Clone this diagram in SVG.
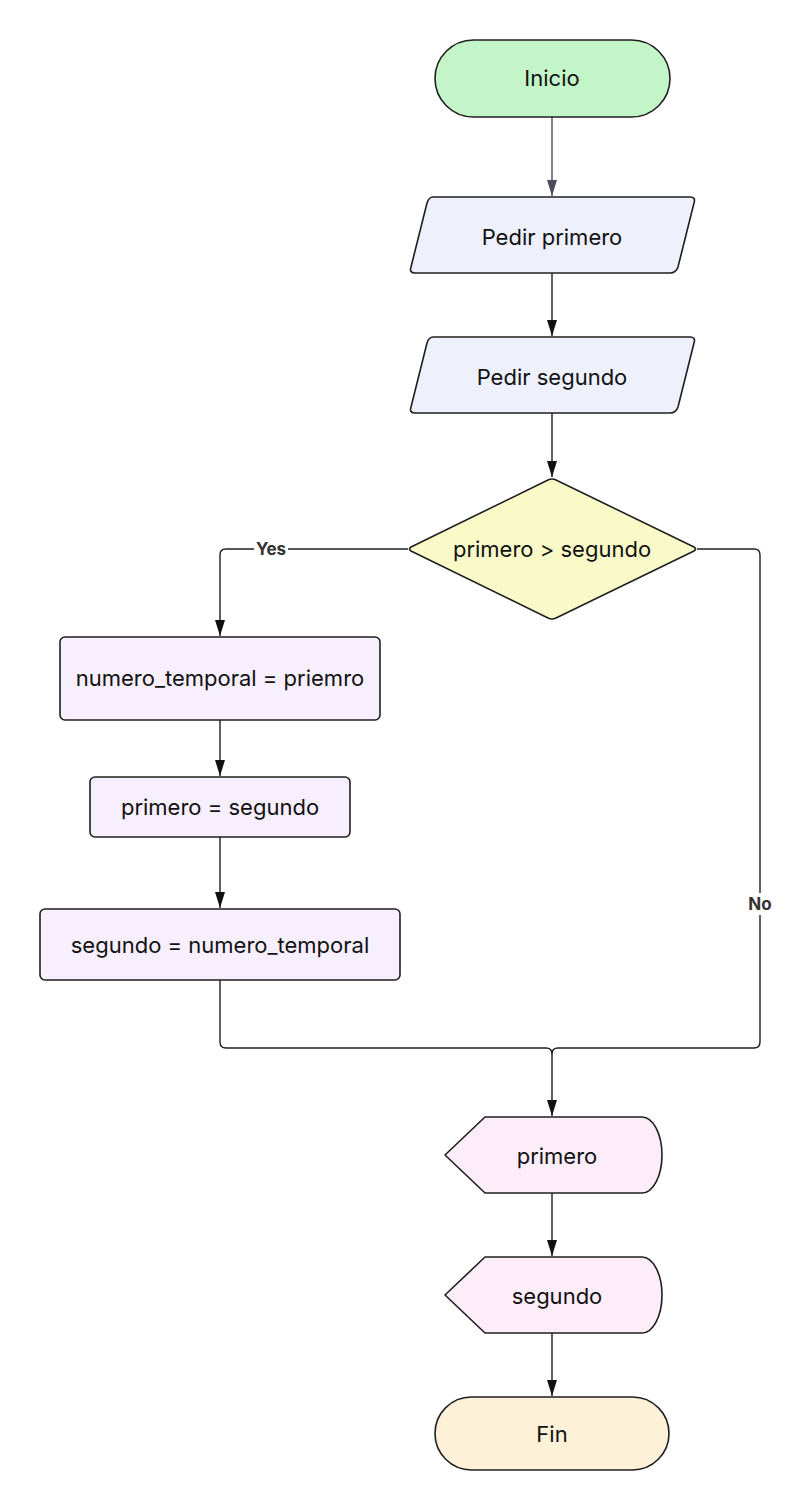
<svg xmlns="http://www.w3.org/2000/svg" width="812" height="1512" viewBox="0 0 812 1512">
<defs>
<style>
.node{stroke:#1f1f1f;stroke-width:1.6;stroke-linejoin:round}
.lbl{font-family:Inter,"Liberation Sans",sans-serif;font-size:22px;fill:#111;text-anchor:middle;dominant-baseline:central}
.edge{fill:none;stroke:#1f1f1f;stroke-width:1.4}
.elbl{font-family:Inter,"Liberation Sans",sans-serif;font-size:17px;font-weight:bold;fill:#333;text-anchor:middle;dominant-baseline:central}
</style>
<marker id="ah" viewBox="0 0 16 10" refX="16" refY="5" markerWidth="16" markerHeight="10" markerUnits="userSpaceOnUse" orient="auto">
<path d="M0,0 L16,5 L0,10 Z" fill="#111"/>
</marker>
<marker id="ahg" viewBox="0 0 16 10" refX="16" refY="5" markerWidth="16" markerHeight="10" markerUnits="userSpaceOnUse" orient="auto">
<path d="M0,0 L16,5 L0,10 Z" fill="#4a4e58"/>
</marker>
</defs>
<rect width="812" height="1512" fill="#ffffff"/>
<g id="connectors">
<path class="edge" d="M552 117 V196" style="stroke:#4a4e58" marker-end="url(#ahg)"/>
<path class="edge" d="M552 273 V336" marker-end="url(#ah)"/>
<path class="edge" d="M552 413 V477" marker-end="url(#ah)"/>
<path class="edge" d="M408 549 H226 Q220 549 220 555 V636" marker-end="url(#ah)"/>
<path class="edge" d="M220 720 V776" marker-end="url(#ah)"/>
<path class="edge" d="M220 837 V908" marker-end="url(#ah)"/>
<path class="edge" d="M220 980 V1042 Q220 1048 226 1048 H546 Q552 1048 552 1054"/>
<path class="edge" d="M697 549 H754 Q760 549 760 555 V1042 Q760 1048 754 1048 H558 Q552 1048 552 1054 V1116" marker-end="url(#ah)"/>
<path class="edge" d="M552 1193 V1256" marker-end="url(#ah)"/>
<path class="edge" d="M552 1333 V1396" marker-end="url(#ah)"/>
<rect x="254" y="539" width="34" height="20" fill="#fff"/>
<text class="elbl" x="271" y="549">Yes</text>
<rect x="747" y="893" width="26" height="22" fill="#fff"/>
<text class="elbl" x="760" y="904">No</text>
</g>
<g id="inicio">
<rect class="node" x="435" y="40" width="235" height="77" rx="38.5" fill="#c3f5c9"/>
<text class="lbl" x="552" y="78">Inicio</text>
</g>
<g id="pedir_primero">
<path class="node" d="M433 197 H690 Q696 197 694 203 L678 267 Q676 273 670 273 H415 Q409 273 411 267 L427 203 Q429 197 433 197 Z" fill="#eef0fc"/>
<text class="lbl" x="552" y="237">Pedir primero</text>
</g>
<g id="pedir_segundo">
<path class="node" d="M433 337 H690 Q696 337 694 343 L678 407 Q676 413 670 413 H415 Q409 413 411 407 L427 343 Q429 337 433 337 Z" fill="#eef0fc"/>
<text class="lbl" x="552" y="377">Pedir segundo</text>
</g>
<g id="decision">
<path class="node" d="M548 480 Q552 478 556 480 L694 547 Q697 549 694 551 L556 618 Q552 620 548 618 L411 551 Q408 549 411 547 Z" fill="#fafac9"/>
<text class="lbl" x="552" y="549">primero &gt; segundo</text>
</g>
<g id="numero_temporal">
<rect class="node" x="60" y="637" width="320" height="83" rx="5" fill="#f7effd"/>
<text class="lbl" x="220" y="678">numero_temporal = priemro</text>
</g>
<g id="primero_segundo">
<rect class="node" x="90" y="777" width="260" height="60" rx="5" fill="#f7effd"/>
<text class="lbl" x="220" y="807">primero = segundo</text>
</g>
<g id="segundo_numero">
<rect class="node" x="40" y="909" width="360" height="71" rx="5" fill="#f7effd"/>
<text class="lbl" x="220" y="945">segundo = numero_temporal</text>
</g>
<g id="out_primero">
<path class="node" d="M485 1117 H642 A20 38 0 0 1 642 1193 H485 L445 1155 Z" fill="#fcedf9"/>
<text class="lbl" x="557" y="1156">primero</text>
</g>
<g id="out_segundo">
<path class="node" d="M485 1257 H642 A20 38 0 0 1 642 1333 H485 L445 1295 Z" fill="#fcedf9"/>
<text class="lbl" x="557" y="1296">segundo</text>
</g>
<g id="fin">
<rect class="node" x="435" y="1397" width="234" height="73" rx="36.5" fill="#fdf2d8"/>
<text class="lbl" x="552" y="1434">Fin</text>
</g>
</svg>
